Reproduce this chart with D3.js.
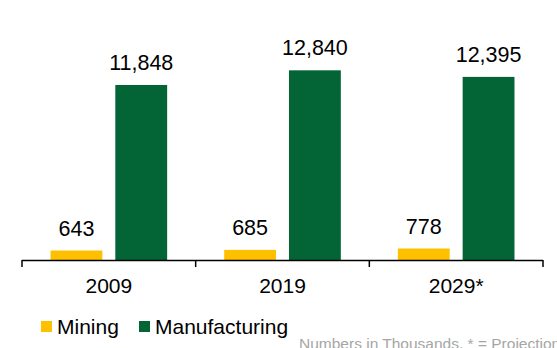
<!DOCTYPE html>
<html>
<head>
<meta charset="utf-8">
<script src="https://cdn.jsdelivr.net/npm/d3@7"></script>
<style>
  html, body { margin: 0; padding: 0; background: #fff; }
  svg { display: block; font-family: "Liberation Sans", Arial, sans-serif; }
</style>
</head>
<body>
<svg id="chart" width="557" height="348"></svg>
<script>
// data
const years = ["2009", "2019", "2029*"];
const series = ["Mining", "Manufacturing"];
const mining = [643, 685, 778];
const manufacturing = [11848, 12840, 12395];
const colors = ["#ffc000", "#036535"];
const footnote = "Numbers in Thousands. * = Projection";

const width = 557, height = 348;
const baseY = 260;

const svg = d3.select("#chart");

const x = d3.scaleBand()
  .domain(years)
  .range([22, 543])
  .paddingInner(0)
  .paddingOuter(0);

const xInner = d3.scaleBand()
  .domain(series)
  .range([0, x.bandwidth()])
  .paddingInner(0.2)
  .paddingOuter(0.44);

const y = d3.scaleLinear()
  .domain([0, 17600])
  .range([baseY, 0]);

const color = d3.scaleOrdinal(series, colors);

const rows = years.map((yr, i) => ({
  year: yr,
  values: [
    {key: "Mining", value: mining[i]},
    {key: "Manufacturing", value: manufacturing[i]}
  ]
}));

const groups = svg.append("g")
  .selectAll("g")
  .data(rows)
  .join("g")
  .attr("transform", d => `translate(${x(d.year)},0)`);

groups.selectAll("rect")
  .data(d => d.values)
  .join("rect")
  .attr("x", d => xInner(d.key))
  .attr("y", d => y(d.value))
  .attr("width", xInner.bandwidth())
  .attr("height", d => baseY - y(d.value))
  .attr("fill", d => color(d.key));

groups.selectAll("text")
  .data(d => d.values)
  .join("text")
  .attr("x", d => xInner(d.key) + xInner.bandwidth() / 2)
  .attr("y", d => y(d.value) - 15)
  .attr("text-anchor", "middle")
  .attr("font-size", 21.5)
  .attr("fill", "#000")
  .text(d => d3.format(",")(d.value));

// axis: baseline with ticks at category boundaries
const axis = svg.append("g")
  .attr("stroke", "#000")
  .attr("stroke-width", 1.5);

axis.append("line")
  .attr("x1", x.range()[0])
  .attr("x2", x.range()[1])
  .attr("y1", baseY + 0.5)
  .attr("y2", baseY + 0.5);

const bounds = years.map(d => x(d)).concat([x.range()[1]]);
axis.selectAll(".tick")
  .data(bounds)
  .join("line")
  .attr("class", "tick")
  .attr("x1", d => d)
  .attr("x2", d => d)
  .attr("y1", baseY)
  .attr("y2", baseY + 7);

svg.append("g")
  .selectAll("text")
  .data(years)
  .join("text")
  .attr("x", d => x(d) + x.bandwidth() / 2)
  .attr("y", 293)
  .attr("text-anchor", "middle")
  .attr("font-size", 21)
  .attr("fill", "#000")
  .text(d => d);

// legend
const legendX = [41, 139];
const legend = svg.append("g")
  .selectAll("g")
  .data(series)
  .join("g")
  .attr("transform", (d, i) => `translate(${legendX[i]},321)`);

legend.append("rect")
  .attr("width", 11)
  .attr("height", 11)
  .attr("fill", d => color(d));

legend.append("text")
  .attr("x", 16)
  .attr("y", 12.5)
  .attr("font-size", 21)
  .attr("fill", "#000")
  .text(d => d);

// footnote runs past the right edge, as in the original
svg.append("text")
  .attr("x", 299)
  .attr("y", 349)
  .attr("font-size", 15.5)
  .attr("fill", "#a6a6a6")
  .text(footnote);
</script>
</body>
</html>
